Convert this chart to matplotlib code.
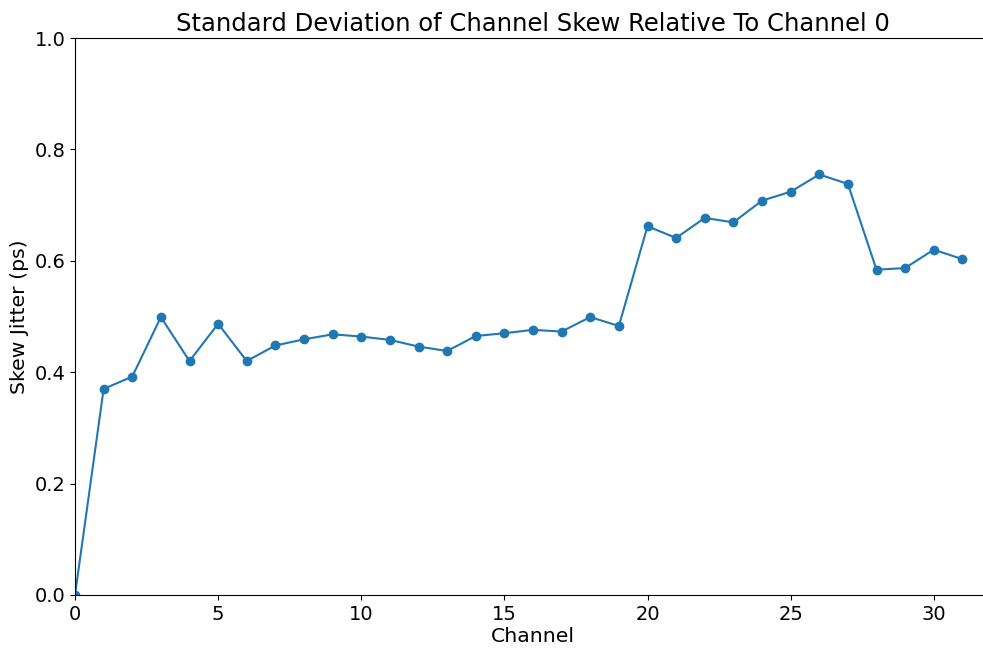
import matplotlib
matplotlib.use("Agg")
import matplotlib.pyplot as plt

channels = list(range(32))
skew_jitter = [0.0, 0.370, 0.392, 0.499, 0.420, 0.487, 0.420, 0.448, 0.459, 0.468,
               0.464, 0.458, 0.446, 0.438, 0.465, 0.470, 0.476, 0.473, 0.499, 0.483,
               0.662, 0.641, 0.677, 0.669, 0.708, 0.724, 0.755, 0.738, 0.584, 0.587,
               0.620, 0.603]

fig = plt.figure(figsize=(9.83, 6.5), dpi=100)
W, H = 983, 650
left, right, bottom, top = 75, 991, 595, 38
ax = fig.add_axes([left / W, (H - bottom) / H, (right - left) / W, (bottom - top) / H])
ax.plot(channels, skew_jitter, color="#1f77b4", marker="o", markersize=6, linewidth=1.5)
ax.set_xlim(0, 32)
ax.set_ylim(0, 1.0)
ax.set_xticks([0, 5, 10, 15, 20, 25, 30])
ax.set_yticks([0.0, 0.2, 0.4, 0.6, 0.8, 1.0])
ax.tick_params(labelsize=14)
ax.set_title("Standard Deviation of Channel Skew Relative To Channel 0", fontsize=17.5, pad=5)
ax.set_xlabel("Channel", fontsize=14.7, labelpad=2)
ax.set_ylabel("Skew Jitter (ps)", fontsize=14.7)
ax.spines["right"].set_visible(False)
fig.savefig("out.png", dpi=100)
